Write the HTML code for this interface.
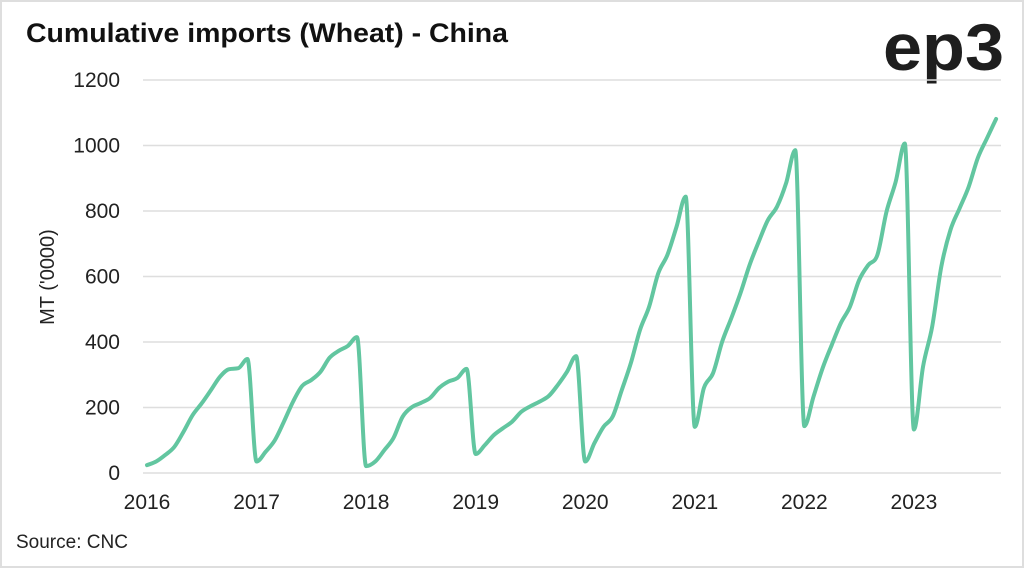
<!DOCTYPE html>
<html><head><meta charset="utf-8"><style>
body{margin:0;background:#fff}
svg{display:block}
text{font-family:"Liberation Sans",sans-serif}
</style></head><body>
<svg id="chart" width="1024" height="569" viewBox="0 0 1024 569" xmlns="http://www.w3.org/2000/svg">
<rect x="1" y="1" width="1022" height="566" fill="#fff" stroke="#dedede" stroke-width="2"/>
<text x="26" y="42" font-size="27" font-weight="bold" fill="#111" textLength="482" lengthAdjust="spacingAndGlyphs">Cumulative imports (Wheat) - China</text>
<text x="1004" y="70" text-anchor="end" font-size="66" font-weight="bold" fill="#1e1e1e" textLength="121" lengthAdjust="spacingAndGlyphs">ep3</text>
<text x="54" y="277" transform="rotate(-90 54 277)" text-anchor="middle" font-size="20" fill="#222">MT ('0000)</text>
<text x="16" y="548" font-size="19" fill="#222">Source: CNC</text>
<g id="grid"></g><g id="ylabels"></g><g id="xlabels"></g><g id="series"></g>
</svg>
<script>
const yTicks=[0,200,400,600,800,1000,1200];
const xYears=["2016","2017","2018","2019","2020","2021","2022","2023"];
const v2016=[24,35,55,80,126,177,213,253,294,317,320,348];
const v2017=[35,65,100,157,218,266,284,309,352,373,388,415];
const v2018=[21,35,70,107,172,201,214,229,260,279,290,318];
const v2019=[58,85,116,137,157,187,204,218,235,269,309,357];
const v2020=[35,91,141,172,253,336,437,508,610,666,752,844];
const v2021=[141,260,305,401,473,549,635,706,772,813,885,986];
const v2022=[143,233,320,391,458,508,589,635,666,798,889,1006];
const v2023=[133,325,447,630,742,808,874,962,1022,1081];
const values=[].concat(v2016,v2017,v2018,v2019,v2020,v2021,v2022,v2023);
const NS="http://www.w3.org/2000/svg";
const x0=147,mStep=9.13,y0=473,yScale=65.5/200;
function xPos(i){return x0+i*mStep;}
function yPos(v){return y0-v*yScale;}
function mk(tag,attrs,parent){const e=document.createElementNS(NS,tag);for(const k in attrs)e.setAttribute(k,attrs[k]);parent.appendChild(e);return e;}
const g=document.getElementById('grid'),yl=document.getElementById('ylabels'),xl=document.getElementById('xlabels'),s=document.getElementById('series');
yTicks.forEach(t=>{
 const l=mk('line',{x1:143,x2:1001,y1:yPos(t),y2:yPos(t),stroke:'#dedede','stroke-width':1.5},g);
 
 
 const tx=mk('text',{x:120,y:yPos(t)+7,'text-anchor':'end','font-size':21,fill:'#222'},yl);
 tx.textContent=t;
 
 
});
xYears.forEach((yr,i)=>{
 const tx=mk('text',{x:xPos(i*12),y:509,'text-anchor':'middle','font-size':21,fill:'#222'},xl);
 tx.textContent=yr;
 
 
});
// monotone cubic (Fritsch-Carlson) to avoid overshoot
const pts=values.map((v,i)=>[xPos(i),yPos(v)]);
const n=pts.length,h=mStep;
const dl=[];for(let i=0;i<n-1;i++)dl.push((pts[i+1][1]-pts[i][1])/h);
const m=new Array(n);
m[0]=dl[0];m[n-1]=dl[n-2];
for(let i=1;i<n-1;i++){ if(dl[i-1]*dl[i]<=0)m[i]=0; else m[i]=(dl[i-1]+dl[i])/2; }
for(let i=0;i<n-1;i++){
 if(dl[i]===0){m[i]=0;m[i+1]=0;continue;}
 const a=m[i]/dl[i],b=m[i+1]/dl[i],q=a*a+b*b;
 if(q>9){const t=3/Math.sqrt(q);m[i]=t*a*dl[i];m[i+1]=t*b*dl[i];}
}
let d='M'+pts[0][0]+','+pts[0][1];
for(let i=0;i<n-1;i++){
 const p1=pts[i],p2=pts[i+1];
 d+=' C'+(p1[0]+h/3)+','+(p1[1]+m[i]*h/3)+' '+(p2[0]-h/3)+','+(p2[1]-m[i+1]*h/3)+' '+p2[0]+','+p2[1];
}
const path=mk('path',{d:d,fill:'none',stroke:'#62c6a0','stroke-width':4,'stroke-linecap':'round','stroke-linejoin':'round'},s);


</script>
</body></html>
